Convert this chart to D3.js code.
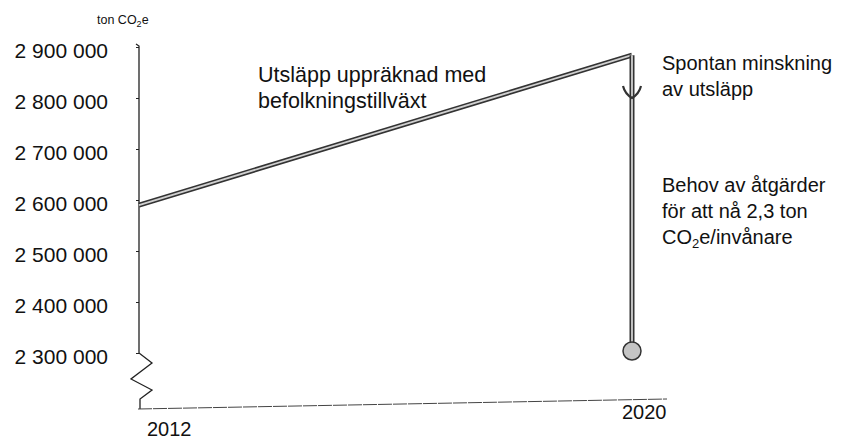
<!DOCTYPE html>
<html>
<head>
<meta charset="utf-8">
<script src="https://cdn.jsdelivr.net/npm/d3@7"></script>
<style>
  body { margin: 0; background: #fff; }
  svg text { font-family: "Liberation Sans", Arial, sans-serif; fill: #111; }
</style>
</head>
<body>
<div id="chart"></div>
<script>
// data
const years = [2012, 2020];
const projected = [2590000, 2884000];       // utsläpp uppräknad med befolkningstillväxt
const spontaneous = [2884000, 2800000];     // spontan minskning 2020
const target = [2800000, 2300000];          // behov av åtgärder 2020
const yTicks = [2300000, 2400000, 2500000, 2600000, 2700000, 2800000, 2900000];

const LINE_DARK = "#333";
const LINE_LIGHT = "#d0d0d0";
const AXIS_COLOR = "#222";

const width = 848, height = 440;

const svg = d3.select("#chart")
    .append("svg")
    .attr("width", width)
    .attr("height", height);

const xScale = d3.scaleLinear()
    .domain([2012, 2020])
    .range([139, 632]);

const yScale = d3.scaleLinear()
    .domain([2300000, 2900000])
    .range([353, 47]);

const locale = d3.formatLocale({ decimal: ",", thousands: " ", grouping: [3] });
const fmt = locale.format(",d");

// y axis ticks and labels
const yAxis = svg.append("g")
    .attr("transform", `translate(${xScale(2012)},0)`)
    .call(d3.axisLeft(yScale).tickValues(yTicks).tickFormat(fmt).tickSize(3).tickPadding(28));
yAxis.select(".domain").remove();
yAxis.selectAll(".tick line").attr("stroke", AXIS_COLOR);
yAxis.selectAll(".tick text")
    .attr("dy", "0.5em")
    .style("font-size", "21px")
    .style("font-family", "Liberation Sans, Arial, sans-serif")
    .attr("fill", "#111");

// y axis line with break (zigzag) at the bottom
const x0 = xScale(2012), yTop = yScale(2900000) - 2, yBot = yScale(2300000);
svg.append("path")
    .attr("d", `M${x0 - 3},${yTop - 1} L${x0},${yTop + 1} L${x0},${yBot}
                L${x0 + 13},${yBot + 10} L${x0 - 8},${yBot + 26} L${x0 + 13},${yBot + 37}
                L${x0 + 1},${yBot + 46} L${x0 + 1},${yBot + 56}`)
    .attr("fill", "none")
    .attr("stroke", AXIS_COLOR)
    .attr("stroke-width", 1.3);

// x axis (slightly tilted like the scan)
svg.append("line")
    .attr("x1", x0 - 1).attr("y1", yBot + 56)
    .attr("x2", xScale(2020) + 35).attr("y2", yBot + 46)
    .attr("stroke", "#444")
    .attr("stroke-width", 1)
    .attr("stroke-dasharray", "14,1");

// year labels
svg.append("text").attr("x", xScale(2012) + 8).attr("y", 436)
    .style("font-size", "20px").text(years[0]);
svg.append("text").attr("x", xScale(2020) - 10).attr("y", 419)
    .style("font-size", "20px").text(years[1]);

// unit label
const unit = svg.append("text").attr("x", 97).attr("y", 24).style("font-size", "12.5px");
unit.append("tspan").text("ton CO");
unit.append("tspan").attr("dy", 3).style("font-size", "9px").text("2");
unit.append("tspan").attr("dy", -3).text("e");

// double (hollow) line helper
function doubleLine(pts) {
    const line = d3.line();
    svg.append("path").attr("d", line(pts)).attr("fill", "none")
        .attr("stroke", LINE_DARK).attr("stroke-width", 5).attr("stroke-linejoin", "round");
    svg.append("path").attr("d", line(pts)).attr("fill", "none")
        .attr("stroke", LINE_LIGHT).attr("stroke-width", 1.8).attr("stroke-linejoin", "round");
}

// projected emissions line
doubleLine(years.map((y, i) => [xScale(y), yScale(projected[i])]));

// vertical reduction line 2020
doubleLine([[xScale(2020), yScale(spontaneous[0])], [xScale(2020), yScale(target[1])]]);

// arrow head for spontaneous reduction
const ax = xScale(2020), ay = yScale(spontaneous[1]);
svg.append("path")
    .attr("d", `M${ax - 9},${ay - 12} Q${ax - 7},${ay - 4} ${ax},${ay} Q${ax + 7},${ay - 4} ${ax + 9},${ay - 12}`)
    .attr("fill", "none")
    .attr("stroke", LINE_DARK)
    .attr("stroke-width", 2.2);

// target point
svg.append("circle")
    .attr("cx", xScale(2020))
    .attr("cy", yScale(target[1]) - 2)
    .attr("r", 9)
    .attr("fill", "#c4c4c4")
    .attr("stroke", LINE_DARK)
    .attr("stroke-width", 1.5);

// annotations
function label(x, y, lines, size) {
    lines.forEach((l, i) => {
        const t = svg.append("text").attr("x", x).attr("y", y + i * 26).style("font-size", size + "px");
        if (Array.isArray(l)) {
            l.forEach(part => {
                const s = t.append("tspan").text(part.t);
                if (part.sub) s.attr("dy", 4).style("font-size", "13px");
                if (part.up) s.attr("dy", -4);
            });
        } else {
            t.text(l);
        }
    });
}

label(258, 82, ["Utsläpp uppräknad med", "befolkningstillväxt"], 21.5);
label(662, 70, ["Spontan minskning", "av utsläpp"], 20);
label(662, 192, ["Behov av åtgärder", "för att nå 2,3 ton",
    [{ t: "CO" }, { t: "2", sub: true }, { t: "e/invånare", up: true }]], 20);
</script>
</body>
</html>
